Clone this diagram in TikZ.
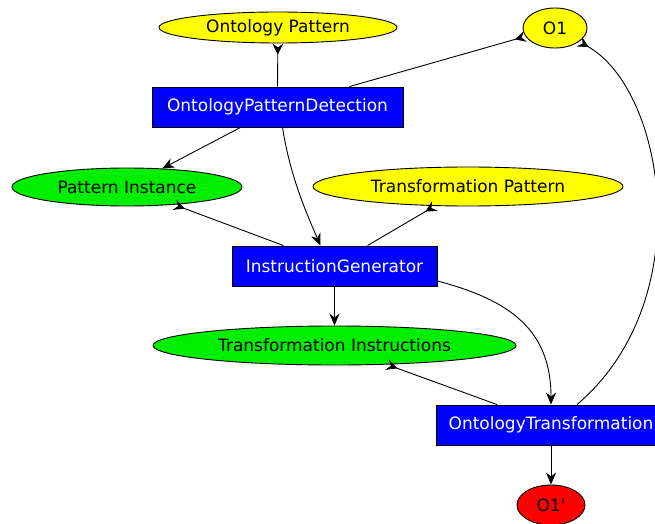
\documentclass[tikz,border=0pt]{standalone}
\usepackage{fontspec}
\setmainfont{DejaVu Sans}
\usetikzlibrary{shapes.geometric,arrows.meta,calc}
\definecolor{gvyellow}{RGB}{255,255,0}
\definecolor{gvgreen}{RGB}{0,238,0}
\definecolor{gvred}{RGB}{255,0,0}
\definecolor{gvblue}{RGB}{0,0,255}
\begin{document}
\begin{tikzpicture}[x=1pt,y=-1pt,
  font=\fontsize{17}{20}\selectfont,
  ell/.style={ellipse,draw=black,line width=0.9pt,inner sep=0pt,text=black},
  proc/.style={rectangle,draw=black,line width=0.9pt,fill=gvblue,text=white,inner sep=0pt,minimum height=40pt},
  edge/.style={draw=black,line width=0.9pt},
  fwd/.style={edge,-{Stealth[length=12pt,width=10pt,inset=4pt]}},
  crow/.style={edge,{Stealth[length=11pt,width=11pt,inset=4pt,reversed]}-}]
\useasboundingbox (0,0) rectangle (655,524);
% nodes
\node[ell,fill=gvyellow,minimum width=238pt,minimum height=31pt] (op) at (278,27.5) {Ontology Pattern};
\node[ell,fill=gvyellow,minimum width=64pt,minimum height=40pt] (o1) at (555,28) {O1};
\node[proc,minimum width=251pt] (opd) at (277.5,107) {OntologyPatternDetection};
\node[ell,fill=gvgreen,minimum width=230pt,minimum height=38pt] (pi) at (127,187) {Pattern Instance};
\node[ell,fill=gvyellow,minimum width=310pt,minimum height=39pt] (tp) at (468,186.5) {Transformation Pattern};
\node[proc,minimum width=205pt] (ig) at (334.5,266) {InstructionGenerator};
\node[ell,fill=gvgreen,minimum width=363pt,minimum height=39pt] (ti) at (334.5,345.5) {Transformation Instructions};
\node[proc,minimum width=230pt] (ot) at (551,425) {OntologyTransformation};
\node[ell,fill=gvred,minimum width=68pt,minimum height=40pt] (o1p) at (551,505) {O1\textquotesingle};
% edges
\draw[crow] (op) -- (opd.north);
\draw[crow] (o1) -- ($(opd.north)+(72,0)$);
\draw[fwd] ($(opd.south)+(-37,0)$) -- (pi);
\draw[fwd] ($(opd.south)+(5,0)$) .. controls (290,175) and (305,210) .. ($(ig.north)+(-14,0)$);
\draw[crow] (pi) -- ($(ig.north)+(-51,0)$);
\draw[crow] (tp) -- ($(ig.north)+(33,0)$);
\draw[fwd] (ig.south) -- (ti.north);
\draw[fwd] ($(ig.east)+(0,15)$) .. controls (510,300) and (551,330) .. (ot.north);
\draw[crow] (ti) -- ($(ot.north)+(-54,0)$);
\draw[crow] (o1) .. controls (665,90) and (700,300) .. ($(ot.north)+(26,0)$);
\draw[fwd] (ot.south) -- (o1p.north);
\end{tikzpicture}
\end{document}
